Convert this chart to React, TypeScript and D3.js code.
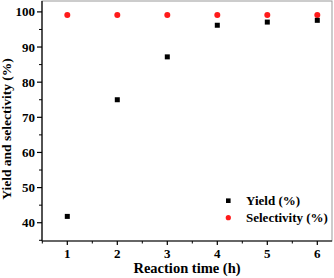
import React from "react";
import * as d3 from "d3";

const times = [1, 2, 3, 4, 5, 6];
const yieldVals = [41.8, 75, 87.2, 96.2, 97.1, 97.6];
const selectivityVals = [99.1, 99.1, 99.1, 99.1, 99.1, 99.1];
const yTicks = [40, 50, 60, 70, 80, 90, 100];
const yMinor = [35, 45, 55, 65, 75, 85, 95];
const xMinor = [0.5, 1.5, 2.5, 3.5, 4.5, 5.5];

const W = 334, H = 278;
const L = 42, T = 1, R = 332, B = 241;

export default function App() {
  const x = d3.scaleLinear().domain([0.494, 6.294]).range([L, R]);
  const y = d3.scaleLinear().domain([34.8, 103.1]).range([B, T]);
  const font = "'Liberation Serif', 'Times New Roman', serif";
  return (
    <svg width={W} height={H} style={{ position: "fixed", left: 0, top: 0, background: "#fff" }}>
      <rect x={L} y={T} width={R - L} height={B - T} fill="none" stroke="#999" strokeWidth={1} />
      <line x1={L} x2={L} y1={T} y2={B} stroke="#000" strokeWidth={1.2} />
      <line x1={L} x2={R} y1={B} y2={B} stroke="#000" strokeWidth={1.2} />
      {yTicks.map((t) => (
        <g key={"y" + t}>
          <line x1={L - 5} x2={L} y1={y(t)} y2={y(t)} stroke="#000" strokeWidth={1.2} />
          <text x={35} y={y(t)} dy="0.35em" textAnchor="end" fontFamily={font} fontWeight="bold" fontSize={13}>{t}</text>
        </g>
      ))}
      {yMinor.map((t) => (
        <line key={"ym" + t} x1={L - 3} x2={L} y1={y(t)} y2={y(t)} stroke="#000" strokeWidth={1} />
      ))}
      {times.map((t) => (
        <g key={"x" + t}>
          <line x1={x(t)} x2={x(t)} y1={B} y2={B + 4} stroke="#000" strokeWidth={1.2} />
          <text x={x(t)} y={257.5} textAnchor="middle" fontFamily={font} fontWeight="bold" fontSize={13}>{t}</text>
        </g>
      ))}
      {xMinor.map((t) => (
        <line key={"xm" + t} x1={x(t)} x2={x(t)} y1={B} y2={B + 2.5} stroke="#000" strokeWidth={1} />
      ))}
      {times.map((t, i) => (
        <circle key={"s" + t} cx={x(t)} cy={y(selectivityVals[i])} r={3} fill="#ff1a1a" />
      ))}
      {times.map((t, i) => (
        <rect key={"yv" + t} x={x(t) - 2.5} y={y(yieldVals[i]) - 2.5} width={5} height={5} fill="#000" />
      ))}
      <rect x={228.3 - 2.3} y={200.7 - 2.3} width={4.6} height={4.6} fill="#000" />
      <text x={246} y={204.5} fontFamily={font} fontWeight="bold" fontSize={13}>Yield (%)</text>
      <circle cx={228.3} cy={217.7} r={2.6} fill="#ff1a1a" />
      <text x={246} y={221.5} fontFamily={font} fontWeight="bold" fontSize={13}>Selectivity (%)</text>
      <text x={(L + R) / 2} y={272.5} textAnchor="middle" fontFamily={font} fontWeight="bold" fontSize={14.5}>Reaction time (h)</text>
      <text transform={`translate(11,${129}) rotate(-90)`} textAnchor="middle" fontFamily={font} fontWeight="bold" fontSize={13.5}>Yield and selectivity (%)</text>
    </svg>
  );
}
